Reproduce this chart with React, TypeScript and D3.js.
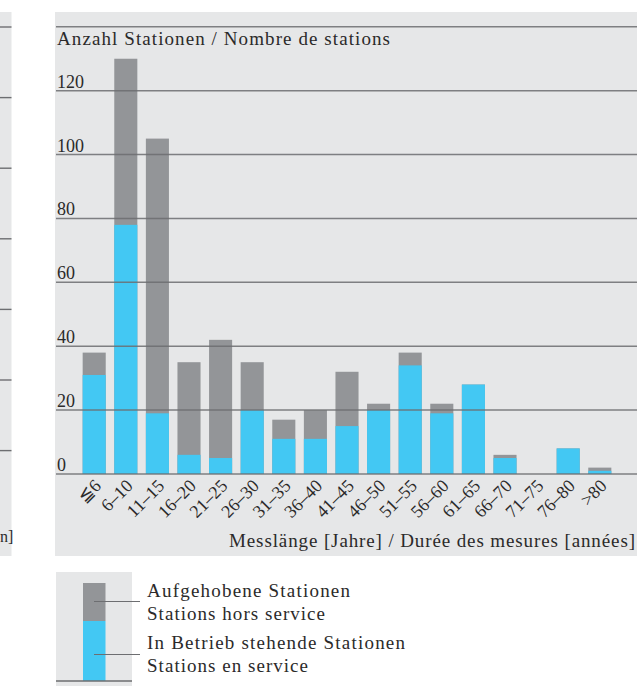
import * as d3 from 'd3';
import React from 'react';

// Messlänge classes and station counts
const categories = ['≦6', '6–10', '11–15', '16–20', '21–25', '26–30', '31–35', '36–40', '41–45', '46–50', '51–55', '56–60', '61–65', '66–70', '71–75', '76–80', '>80'];
const totalStations = [38, 130, 105, 35, 42, 35, 17, 20, 32, 22, 38, 22, 28, 6, 0, 8, 2];
const activeStations = [31, 78, 19, 6, 5, 20, 11, 11, 15, 20, 34, 19, 28, 5, 0, 8, 1];
const yTicks = [0, 20, 40, 60, 80, 100, 120, 140];

const BG = '#e6e7e8';
const GRAY = '#939598';
const BLUE = '#43c8f3';
const LINE = '#6d6e71';
const TEXT = '#2b2a2a';
const FONT = 'Liberation Serif, DejaVu Serif, serif';

export default function App() {
  const x = d3
    .scaleBand<string>()
    .domain(categories)
    .range([78.4, 615.6])
    .paddingInner(0.27)
    .paddingOuter(0.135);
  const y = d3.scaleLinear().domain([0, 140]).range([474, 26.8]);

  const leftLines = d3.range(7).map(i => 27 + i * 70.6);

  return (
    <svg width={637} height={686} style={{ position: 'absolute', left: 0, top: 0 }}>
      <g fontFamily={FONT}>
        <rect width={637} height={686} fill="#fff" />

        {/* fragment of the neighbouring panel */}
        <rect x={0} y={12} width={11.5} height={544} fill={BG} />
        {leftLines.map(v => (
          <line key={v} x1={0} x2={11.5} y1={v} y2={v} stroke={LINE} strokeWidth={1.4} />
        ))}
        <text x={0} y={542} fontSize={16} fill={TEXT}>n]</text>

        {/* main panel */}
        <rect x={55} y={12} width={600} height={544} fill={BG} />

        {categories.map((c, i) => (
          <g key={c}>
            <rect
              x={x(c)}
              y={y(totalStations[i])}
              width={x.bandwidth()}
              height={y(0) - y(totalStations[i])}
              fill={GRAY}
            />
            <rect
              x={x(c)}
              y={y(activeStations[i])}
              width={x.bandwidth()}
              height={y(0) - y(activeStations[i])}
              fill={BLUE}
            />
          </g>
        ))}

        {yTicks.map(t => (
          <g key={t}>
            <line x1={56} x2={637} y1={y(t)} y2={y(t)} stroke={LINE} strokeWidth={1.5} opacity={0.85} />
            {t < 140 && (
              <text x={57} y={y(t) - 3} fontSize={18} fill={TEXT}>{t}</text>
            )}
          </g>
        ))}

        <text x={57} y={45} fontSize={19} fill={TEXT} textLength={333} lengthAdjust="spacing">
          Anzahl Stationen / Nombre de stations
        </text>

        {categories.map(c => {
          const cx = (x(c) ?? 0) + x.bandwidth() / 2 + 8;
          return (
            <text
              key={c}
              transform={`translate(${cx},${487}) rotate(-45)`}
              textAnchor="end"
              fontSize={18}
              fill={TEXT}
            >
              {c}
            </text>
          );
        })}

        <text x={229} y={547} fontSize={19} fill={TEXT} textLength={406} lengthAdjust="spacing">
          Messlänge [Jahre] / Durée des mesures [années]
        </text>

        {/* legend */}
        <rect x={56} y={572} width={76} height={120} fill={BG} />
        <rect x={83} y={583} width={22.5} height={38} fill={GRAY} />
        <rect x={83} y={621} width={22.5} height={60} fill={BLUE} />
        <line x1={56} x2={132} y1={681} y2={681} stroke={LINE} strokeWidth={1.5} />
        <line x1={94} x2={140} y1={601.5} y2={601.5} stroke={LINE} strokeWidth={1.2} />
        <line x1={94} x2={140} y1={654.5} y2={654.5} stroke={LINE} strokeWidth={1.2} />
        <g fontSize={19} fill={TEXT}>
          <text x={147} y={597} textLength={203} lengthAdjust="spacing">Aufgehobene Stationen</text>
          <text x={147} y={620} textLength={178} lengthAdjust="spacing">Stations hors service</text>
          <text x={147} y={649} textLength={258} lengthAdjust="spacing">In Betrieb stehende Stationen</text>
          <text x={147} y={672} textLength={161} lengthAdjust="spacing">Stations en service</text>
        </g>
      </g>
    </svg>
  );
}
